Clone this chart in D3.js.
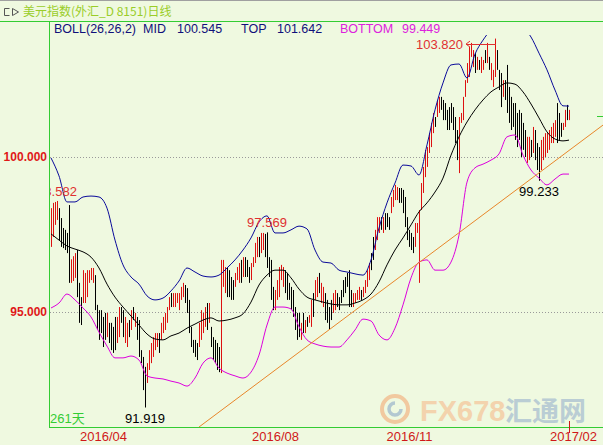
<!DOCTYPE html>
<html>
<head>
<meta charset="utf-8">
<script src="https://cdn.jsdelivr.net/npm/d3@7"></script>
<style>
html, body { margin: 0; padding: 0; background: #eff9e0; }
svg { display: block; font-family: "Liberation Sans", Arial, sans-serif; }
</style>
</head>
<body>
<div id="app"></div>
<script>
// daily bars, oldest first
const highs = [
	98.35, 98.52, 98.55, 98.582, 98.35, 98.03, 97.71, 97.65, 97.55, 98.45,
	96.70, 96.80, 96.90, 97.00, 95.94, 95.48, 96.35, 96.26, 96.35, 96.35,
	96.42, 96.42, 96.19, 95.23, 95.06, 95.06, 94.84, 94.97, 94.97, 94.65,
	94.65, 94.52, 94.84, 94.84, 95.16, 95.16, 95.06, 94.84, 94.65, 94.74,
	95.06, 95.16, 94.97, 94.84, 94.74, 93.77, 93.55, 93.23, 93.35, 93.77,
	94.00, 94.19, 94.32, 94.32, 94.32, 94.65, 94.84, 94.97, 95.16, 95.48,
	95.61, 95.61, 95.61, 95.61, 95.61, 95.81, 95.94, 95.87, 95.77, 95.39,
	94.52, 94.10, 94.10, 94.00, 94.65, 95.06, 94.97, 95.16, 95.29, 95.29,
	94.52, 94.19, 94.10, 94.00, 93.87, 96.68, 96.68, 96.45, 96.45, 96.35,
	96.13, 96.03, 96.26, 96.45, 96.58, 96.68, 96.77, 96.77, 96.68, 96.45,
	96.58, 96.77, 97.23, 97.42, 97.42, 97.55, 97.55, 97.52, 97.569, 96.77,
	96.68, 95.81, 95.71, 96.03, 96.45, 96.52, 96.45, 96.35, 96.26, 95.94,
	95.81, 95.71, 95.16, 94.97, 94.97, 94.65, 94.97, 94.74, 94.84, 94.90,
	95.39, 95.61, 96.03, 96.13, 96.26, 95.94, 95.81, 95.61, 95.39, 95.16,
	95.39, 95.61, 95.71, 95.61, 95.48, 95.71, 96.03, 96.13, 96.26, 96.35,
	95.71, 95.61, 95.61, 95.71, 95.81, 95.71, 95.81, 96.03, 96.35, 96.58,
	96.90, 97.42, 97.65, 98.06, 98.06, 98.06, 98.06, 98.19, 98.19, 98.06,
	98.71, 98.94, 99.10, 99.03, 99.00, 99.00, 98.94, 98.71, 98.06, 97.65,
	97.55, 97.42, 97.87, 97.87, 98.29, 99.16, 99.68, 100.23, 100.32, 100.77,
	101.10, 101.42, 101.29, 101.84, 101.94, 101.94, 101.84, 101.74, 101.52, 101.61,
	101.74, 101.61, 101.29, 100.87, 101.29, 101.42, 101.94, 102.48, 103.03, 103.55,
	103.68, 103.45, 103.35, 103.23, 103.13, 103.23, 103.13, 103.45, 103.68, 103.23,
	103.03, 102.81, 103.82, 103.45, 102.81, 102.71, 102.48, 102.48, 102.97, 102.26,
	101.94, 101.74, 101.74, 101.42, 101.52, 101.42, 101.10, 100.87, 100.65, 100.65,
	100.55, 100.97, 100.87, 100.45, 100.32, 100.55, 100.65, 100.77, 100.77, 100.87,
	100.97, 101.10, 101.19, 101.74, 101.42, 101.10, 101.10, 101.52, 101.68, 101.52
];
const lows = [
	97.10, 97.42, 97.81, 97.97, 97.32, 97.10, 97.06, 97.00, 96.90, 95.94,
	95.94, 96.00, 96.10, 95.48, 94.65, 94.58, 95.29, 95.29, 95.48, 95.94,
	96.03, 95.94, 95.06, 94.42, 94.10, 94.32, 93.87, 94.10, 94.19, 94.00,
	93.77, 93.68, 93.77, 94.00, 94.19, 94.65, 94.19, 94.00, 93.87, 94.19,
	94.42, 94.74, 94.52, 94.10, 93.55, 93.35, 92.48, 91.919, 92.71, 93.13,
	93.35, 93.55, 93.77, 93.87, 93.68, 94.10, 94.32, 94.42, 94.65, 95.06,
	95.16, 95.16, 95.16, 95.29, 95.06, 95.39, 95.48, 95.29, 94.97, 94.32,
	93.87, 93.68, 93.55, 93.45, 93.87, 94.10, 94.32, 94.52, 94.42, 94.65,
	93.87, 93.45, 93.35, 93.13, 93.06, 93.03, 95.81, 95.61, 95.48, 95.48,
	95.39, 95.39, 95.81, 96.03, 95.94, 95.94, 96.13, 96.13, 96.13, 95.94,
	96.03, 96.45, 96.58, 96.77, 96.77, 96.90, 97.00, 96.77, 96.42, 96.13,
	95.39, 95.06, 95.06, 95.39, 95.48, 96.03, 95.81, 95.61, 95.39, 95.39,
	95.06, 94.84, 94.42, 94.10, 94.19, 94.10, 94.32, 94.32, 94.52, 94.65,
	94.52, 94.84, 95.39, 95.48, 95.61, 95.29, 95.16, 94.74, 94.65, 94.42,
	94.74, 94.97, 95.06, 95.16, 95.06, 95.29, 95.48, 95.61, 95.81, 95.16,
	95.16, 95.16, 95.29, 95.39, 95.39, 95.39, 95.48, 95.61, 95.81, 96.03,
	96.35, 96.68, 97.00, 97.32, 97.55, 97.65, 97.55, 97.65, 97.74, 97.65,
	98.19, 98.39, 98.61, 98.61, 98.52, 98.52, 98.19, 97.74, 97.32, 97.10,
	97.00, 96.90, 97.10, 97.55, 95.94, 98.29, 98.84, 99.35, 99.68, 100.13,
	100.32, 100.77, 100.97, 101.29, 101.42, 101.52, 101.19, 101.19, 100.87, 100.87,
	101.10, 100.87, 100.45, 99.90, 99.48, 101.10, 101.19, 101.94, 102.39, 102.58,
	103.23, 102.90, 102.71, 102.81, 102.81, 102.71, 102.81, 103.03, 103.03, 102.81,
	102.48, 102.26, 102.58, 102.81, 102.16, 101.61, 101.94, 101.84, 101.42, 101.10,
	100.87, 100.97, 100.55, 100.32, 100.55, 100.00, 100.23, 100.00, 99.81, 99.90,
	100.00, 100.13, 99.90, 99.58, 99.233, 99.58, 99.90, 100.00, 100.13, 100.23,
	100.45, 100.45, 100.65, 100.45, 100.55, 100.65, 100.87, 100.97, 101.19, 101.19
];
// 1 = closed up (red), 0 = closed down (black)
const rising = [
	1,1,1,1,0,0,0,0,0,0, 1,1,1,0,0,0,1,1,1,1, 1,1,0,0,0,0,0,0,1,0,
	0,0,0,1,1,0,0,1,1,0, 1,0,1,0,0,0,0,0,1,1, 1,1,1,1,0,1,1,1,1,1,
	0,1,1,1,1,1,1,0,0,0, 0,0,0,0,1,1,1,1,0,1, 0,0,0,0,0,1,1,1,0,0,
	0,0,1,1,1,0,1,0,0,0, 1,1,1,1,0,1,1,0,0,0, 0,0,1,1,1,1,1,0,0,0,
	0,0,0,0,0,1,0,1,0,1, 1,0,1,1,0,1,1,0,0,0, 0,1,1,0,0,0,0,0,0,0,
	0,1,1,1,1,0,1,1,1,1, 0,0,1,1,1,0,1,0,0,0, 1,1,1,1,0,0,0,0,0,0,
	0,0,1,1,1,1,1,1,1,1, 1,1,0,1,1,0,0,0,0,0, 0,0,0,0,1,1,1,1,1,1,
	1,1,0,1,0,1,1,0,1,0, 1,1,1,0,0,0,1,0,0,0, 0,0,0,0,0,0,0,0,1,1,
	0,1,0,0,0,1,1,1,1,1, 1,1,1,0,0,0,1,1,0,1
];

// BOLL(26,26,2) at these bar indices
const bandIdx = [
	0, 4, 8, 12, 16, 20, 24, 28, 32, 36, 40, 44, 48, 52, 56, 60, 64, 68, 72, 76,
	80, 84, 88, 92, 96, 100, 104, 108, 112, 116, 120, 124, 128, 132, 136, 140, 144, 148, 152, 156,
	160, 164, 168, 172, 176, 180, 184, 188, 192, 196, 200, 204, 208, 212, 216, 220, 224, 228, 232, 236,
	240, 244, 248, 252, 256, 259
];
const topBand = [
	99.97, 99.39, 98.55, 98.55, 98.71, 98.74, 98.71, 98.35, 97.32, 96.52,
	96.13, 95.90, 95.52, 95.39, 95.45, 95.68, 96.00, 96.42, 96.29, 96.16,
	96.13, 96.19, 96.42, 96.68, 97.00, 97.39, 97.90, 98.10, 97.55, 97.55,
	97.65, 97.77, 97.68, 97.00, 96.61, 96.58, 96.35, 96.29, 96.23, 96.19,
	96.68, 97.71, 98.52, 99.16, 99.74, 99.71, 99.42, 100.39, 101.52, 102.39,
	102.97, 103.00, 102.55, 103.32, 103.77, 104.10, 104.29, 104.35, 104.35, 104.19,
	103.87, 103.35, 102.81, 102.16, 101.65, 101.642
];
const midBand = [
	97.52, 97.32, 97.13, 97.03, 96.94, 96.77, 96.42, 95.90, 95.48, 95.16,
	94.87, 94.58, 94.29, 94.13, 94.10, 94.23, 94.32, 94.48, 94.61, 94.74,
	94.81, 94.71, 94.74, 94.81, 94.94, 95.32, 95.87, 96.19, 96.35, 96.35,
	96.10, 95.74, 95.48, 95.39, 95.32, 95.26, 95.23, 95.23, 95.29, 95.39,
	95.58, 95.97, 96.52, 97.00, 97.39, 97.81, 98.23, 98.52, 98.87, 99.32,
	100.06, 100.65, 101.13, 101.52, 101.84, 102.10, 102.26, 102.39, 102.35, 102.10,
	101.71, 101.26, 100.81, 100.58, 100.52, 100.545
];
const botBand = [
	95.13, 95.29, 95.58, 95.39, 95.13, 94.84, 94.35, 93.90, 93.52, 93.52,
	93.58, 93.45, 92.94, 92.87, 92.84, 92.77, 92.71, 92.61, 92.87, 93.35,
	93.52, 93.19, 93.03, 92.94, 92.87, 93.06, 93.61, 94.58, 95.16, 95.16,
	95.10, 94.52, 94.10, 93.97, 93.90, 93.87, 93.87, 94.10, 94.42, 94.77,
	94.71, 94.26, 94.10, 94.48, 95.23, 96.10, 96.61, 96.68, 96.35, 96.35,
	96.61, 97.48, 99.19, 99.65, 99.77, 99.90, 100.10, 100.65, 100.71, 100.06,
	99.58, 99.32, 99.10, 99.29, 99.45, 99.449
];

const yTicks = [95, 100];
const monthLabels = ['2016/04', '2016/08', '2016/11', '2017/02'];
const monthIdx = [26, 112, 179, 261];
// hand-drawn support line: [bar index, price]
const trendLine = [[74, 91.29], [276, 101.03]];
const lastClose = 101.32;

const W = 603;
const H = 445;
const plotLeft = 49;
const plotBottom = 427;

const svg = d3.select('#app').append('svg')
	.attr('width', W)
	.attr('height', H);

svg.append('rect').attr('width', W).attr('height', H).attr('fill', '#eff9e0');

const x = d3.scaleLinear().domain([0, highs.length - 1]).range([51, 569]);
const y = d3.scaleLinear().domain([95, 100]).range([312, 157]);
const fmt = d3.format('.3f');

svg.append('clipPath').attr('id', 'plot')
	.append('rect')
	.attr('x', plotLeft + 1).attr('y', 35)
	.attr('width', W - plotLeft - 1).attr('height', plotBottom - 35);

// grid
svg.selectAll('line.grid')
	.data(yTicks)
	.join('line')
	.attr('class', 'grid')
	.attr('x1', plotLeft + 1).attr('x2', W)
	.attr('y1', (d) => Math.round(y(d)) + 0.5)
	.attr('y2', (d) => Math.round(y(d)) + 0.5)
	.attr('stroke', '#9a9a9a')
	.attr('stroke-dasharray', '1,2');

const plot = svg.append('g').attr('clip-path', 'url(#plot)');

// bars
plot.selectAll('line.bar')
	.data(highs)
	.join('line')
	.attr('class', 'bar')
	.attr('x1', (d, i) => Math.round(x(i)) + 0.5)
	.attr('x2', (d, i) => Math.round(x(i)) + 0.5)
	.attr('y1', (d) => y(d))
	.attr('y2', (d, i) => y(lows[i]))
	.attr('stroke', (d, i) => rising[i] ? '#dd1111' : '#000000')
	.attr('stroke-width', 1);

// bands
const bandLine = d3.line()
	.x((d, k) => x(bandIdx[k]))
	.y((d) => y(d))
	.curve(d3.curveMonotoneX);

[[topBand, '#0a0a9a'], [midBand, '#000000'], [botBand, '#dd00dd']].forEach(([band, color]) => {
	plot.append('path')
		.datum(band)
		.attr('d', bandLine)
		.attr('fill', 'none')
		.attr('stroke', color)
		.attr('stroke-width', 1);
});

// trend line
plot.append('line')
	.attr('x1', x(trendLine[0][0])).attr('y1', y(trendLine[0][1]))
	.attr('x2', x(trendLine[1][0])).attr('y2', y(trendLine[1][1]))
	.attr('stroke', '#e8862a')
	.attr('stroke-width', 1);

// extreme marks
const marks = [
	{ i: 3, kind: 'high' },
	{ i: 47, kind: 'low' },
	{ i: 108, kind: 'high' },
	{ i: 244, kind: 'low' },
];
plot.selectAll('text.mark')
	.data(marks)
	.join('text')
	.attr('class', 'mark')
	.attr('x', (d) => x(d.i))
	.attr('y', (d) => d.kind === 'high' ? y(highs[d.i]) - 5 : y(lows[d.i]) + 15)
	.attr('text-anchor', 'middle')
	.attr('font-size', 13)
	.attr('fill', (d) => d.kind === 'high' ? '#e03030' : '#000000')
	.text((d) => fmt(d.kind === 'high' ? highs[d.i] : lows[d.i]));

const peak = d3.maxIndex(highs);
const peakY = y(highs[peak]) + 5.5;
plot.append('text')
	.attr('x', x(peak) - 32)
	.attr('y', peakY + 5)
	.attr('text-anchor', 'end')
	.attr('font-size', 13)
	.attr('fill', '#e03030')
	.text(fmt(highs[peak]));
plot.append('line')
	.attr('x1', x(peak) - 29).attr('x2', x(peak) + 1)
	.attr('y1', Math.round(peakY) + 0.5).attr('y2', Math.round(peakY) + 0.5)
	.attr('stroke', '#e03030');
plot.append('path')
	.attr('d', `M${x(peak) - 25},${peakY - 3}L${x(peak) - 29},${peakY}L${x(peak) - 25},${peakY + 3}`)
	.attr('fill', 'none')
	.attr('stroke', '#e03030');

// frame
svg.append('line').attr('x1', 0).attr('x2', W).attr('y1', 0.5).attr('y2', 0.5).attr('stroke', '#a0a0a0');
svg.append('line').attr('x1', 0).attr('x2', W).attr('y1', 21.5).attr('y2', 21.5).attr('stroke', '#33cc33');
svg.append('line').attr('x1', plotLeft + 0.5).attr('x2', plotLeft + 0.5).attr('y1', 21).attr('y2', plotBottom + 0.5).attr('stroke', '#33cc33');
svg.append('line').attr('x1', plotLeft).attr('x2', W).attr('y1', plotBottom + 0.5).attr('y2', plotBottom + 0.5).attr('stroke', '#33cc33');

// y axis
const yAxis = svg.append('g')
	.attr('transform', `translate(${plotLeft - 1},0)`)
	.call(d3.axisLeft(y).tickValues(yTicks).tickFormat(fmt).tickSize(0).tickPadding(1));
yAxis.select('.domain').remove();
yAxis.selectAll('text')
	.attr('fill', '#e01818')
	.attr('font-size', 12)
	.attr('font-weight', 'bold')
	.attr('font-family', '"Liberation Sans", Arial, sans-serif');

// x axis
const xAxis = svg.append('g')
	.attr('transform', `translate(0,${plotBottom})`)
	.call(d3.axisBottom(x).tickValues(monthIdx).tickFormat((d, i) => monthLabels[i]).tickSize(0).tickPadding(5));
xAxis.select('.domain').remove();
xAxis.selectAll('text')
	.attr('fill', '#d01818')
	.attr('font-size', 13)
	.attr('font-family', '"Liberation Sans", Arial, sans-serif');

// cursor tick on last bar
const last = highs.length - 1;
svg.append('line')
	.attr('x1', Math.round(x(last)) + 0.5).attr('x2', Math.round(x(last)) + 0.5)
	.attr('y1', plotBottom - 6).attr('y2', plotBottom + 6)
	.attr('stroke', '#d01818');

// last close marker on right edge
svg.append('line')
	.attr('x1', W - 6).attr('x2', W)
	.attr('y1', Math.round(y(lastClose)) + 0.5).attr('y2', Math.round(y(lastClose)) + 0.5)
	.attr('stroke', '#33cc33');

svg.append('text')
	.attr('x', 50).attr('y', 423)
	.attr('font-size', 13)
	.attr('fill', '#33cc33')
	.attr('font-family', '"Liberation Sans", "Noto Sans CJK SC", sans-serif')
	.text('261天');

// title
const icon = svg.append('g').attr('stroke', '#555').attr('fill', 'none');
icon.append('path').attr('d', 'M9.5,8.5H4.5V15.5H9.5');
icon.append('path').attr('d', 'M12.5,8.5L18.5,12L12.5,15.5Z');
svg.append('text')
	.attr('x', 23).attr('y', 16)
	.attr('font-size', 12)
	.attr('font-family', '"Noto Sans CJK SC", sans-serif')
	.attr('fill', '#9acd28')
	.text('美元指数(外汇_D 8151)日线');

// legend
const legend = [
	{ t: 'BOLL(26,26,2)', x: 54, c: '#10107a' },
	{ t: 'MID', x: 143, c: '#10107a' },
	{ t: fmt(midBand[midBand.length - 1]), x: 177, c: '#10107a' },
	{ t: 'TOP', x: 241, c: '#10107a' },
	{ t: fmt(topBand[topBand.length - 1]), x: 277, c: '#10107a' },
	{ t: 'BOTTOM', x: 340, c: '#dd22dd' },
	{ t: fmt(botBand[botBand.length - 1]), x: 402, c: '#dd22dd' },
];
svg.selectAll('text.legend')
	.data(legend)
	.join('text')
	.attr('class', 'legend')
	.attr('x', (d) => d.x)
	.attr('y', 33)
	.attr('font-size', 12.5)
	.attr('fill', (d) => d.c)
	.text((d) => d.t);

// watermark
const wm = svg.append('g').attr('opacity', 0.75);
wm.append('circle').attr('cx', 395).attr('cy', 409).attr('r', 13)
	.attr('fill', 'none').attr('stroke', '#f2b98a').attr('stroke-width', 4);
wm.append('path').attr('d', 'M395,403a6,6 0 1,0 6,6')
	.attr('fill', 'none').attr('stroke', '#9fb8cc').attr('stroke-width', 3.5);
wm.append('text')
	.attr('x', 420).attr('y', 421)
	.attr('font-size', 29).attr('font-weight', 'bold')
	.attr('font-family', '"Liberation Sans Narrow", "Liberation Sans", Arial, sans-serif')
	.attr('fill', '#f5c79c')
	.text('FX678');
wm.append('text')
	.attr('x', 505).attr('y', 421)
	.attr('font-size', 27).attr('font-weight', 'bold')
	.attr('font-family', '"Noto Sans CJK SC", sans-serif')
	.attr('fill', '#a9bfd0')
	.text('汇通网');
</script>
</body>
</html>
